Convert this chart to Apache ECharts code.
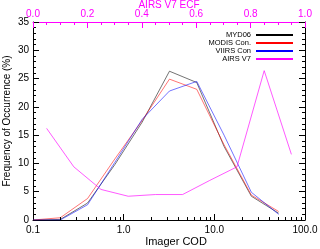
<!DOCTYPE html>
<html><head><meta charset="utf-8">
<script src="https://cdn.jsdelivr.net/npm/echarts@6/dist/echarts.min.js"></script>
<style>html,body{margin:0;padding:0;background:#fff}#c{width:320px;height:249px}</style>
</head><body><div id="c"></div>
<script>
// Imager COD bin centres (bottom log axis)
const codBins = [0.1, 0.2, 0.4, 0.8, 1.6, 3.2, 6.4, 12.8, 25.6, 51.2];
const myd06    = [0, 0.1, 3.0, 9.8, 17.3, 26.3, 24.3, 13.0, 4.2, 1.2];
const modisCon = [0, 0.4, 3.8, 10.8, 17.6, 24.9, 23.1, 13.3, 4.4, 1.5];
const viirsCon = [0, 0.0, 2.7, 10.2, 17.8, 22.8, 24.5, 15.0, 4.9, 1.0];
// AIRS V7 ECF bin centres (top linear axis)
const ecfBins = [0.05, 0.15, 0.25, 0.35, 0.45, 0.55, 0.65, 0.75, 0.85, 0.95];
const airsV7  = [16.2, 9.4, 5.4, 4.2, 4.5, 4.5, 7.0, 9.4, 26.4, 11.6];
// minor tick values of the log axis
const logMinorTicks = [0.2,0.3,0.4,0.5,0.6,0.7,0.8,0.9,2,3,4,5,6,7,8,9,20,30,40,50,60,70,80,90];
const seriesNames = ['MYD06', 'MODIS Con.', 'VIIRS Con', 'AIRS V7'];
const seriesColors = ['#000000', '#ff0000', '#0000ff', '#ff00ff'];
const lineColors = ['rgba(0,0,0,0.55)', 'rgba(255,0,0,0.55)', 'rgba(0,0,255,0.55)', 'rgba(255,0,255,0.65)'];

const F = '"Liberation Sans", Arial, Helvetica, sans-serif';
const chart = echarts.init(document.getElementById('c'), null, {renderer: 'canvas'});
const pair = (xs, ys) => xs.map((x, i) => [x, ys[i]]);
const lineSeries = (k, xs, ys, xi) => ({
  name: seriesNames[k], type: 'line', xAxisIndex: xi, yAxisIndex: 0,
  data: pair(xs, ys), symbol: 'none', color: seriesColors[k],
  itemStyle: {color: seriesColors[k]},
  lineStyle: {width: 1, color: lineColors[k]}, z: 2 + k
});
const option = {
  animation: false,
  textStyle: {fontFamily: F},
  grid: {left: 33, right: 15, top: 22, bottom: 29, containLabel: false, outerBoundsMode: 'none'},
  legend: {
    orient: 'vertical', right: 27, top: 31, align: 'right', padding: 0, itemGap: 0,
    itemWidth: 37, itemHeight: 2, icon: 'rect',
    textStyle: {fontSize: 7.5, lineHeight: 8, color: '#000', fontFamily: F},
    data: seriesNames
  },
  xAxis: [
    {type: 'log', logBase: 10, min: 0.1, max: 100, position: 'bottom',
     axisLine: {onZero: false, lineStyle: {color: '#000', width: 1}},
     axisTick: {inside: true, length: 6, lineStyle: {color: '#000'}},
     axisLabel: {fontSize: 10, color: '#000', margin: 5, fontFamily: F,
                 formatter: v => Number(v).toFixed(1)},
     splitLine: {show: false},
     name: 'Imager COD', nameLocation: 'middle', nameGap: 16, nameMoveOverlap: false,
     nameTextStyle: {fontSize: 11, color: '#000', fontFamily: F, padding: [0, 0, 0, 14]}},
    {type: 'value', min: 0, max: 1, interval: 0.2, position: 'top',
     axisLine: {onZero: false, lineStyle: {color: '#ff00ff', width: 1}},
     axisTick: {inside: true, length: 6, lineStyle: {color: '#ff00ff'}},
     minorTick: {show: true, splitNumber: 4, length: 3, lineStyle: {color: '#ff00ff'}},
     axisLabel: {fontSize: 10, color: '#ff00ff', margin: 3, fontFamily: F,
                 formatter: v => Number(v).toFixed(1)},
     splitLine: {show: false},
     name: 'AIRS V7 ECF', nameLocation: 'middle', nameGap: 12, nameMoveOverlap: false,
     nameTextStyle: {fontSize: 10, color: '#ff00ff', fontFamily: F}}
  ],
  yAxis: [
    {type: 'value', min: 0, max: 35, interval: 5, position: 'left',
     axisLine: {show: true, lineStyle: {color: '#000'}},
     axisTick: {inside: true, length: 6, lineStyle: {color: '#000'}},
     minorTick: {show: true, splitNumber: 5, length: 3, lineStyle: {color: '#000'}},
     axisLabel: {fontSize: 10, color: '#000', margin: 4, fontFamily: F},
     splitLine: {show: false},
     name: 'Frequency of Occurrence (%)', nameLocation: 'middle', nameGap: 21, nameMoveOverlap: false,
     nameTextStyle: {fontSize: 10, color: '#000', fontFamily: F}},
    {type: 'value', min: 0, max: 35, interval: 5, position: 'right',
     axisLine: {show: true, lineStyle: {color: '#000'}},
     axisTick: {inside: true, length: 6, lineStyle: {color: '#000'}},
     minorTick: {show: true, splitNumber: 5, length: 3, lineStyle: {color: '#000'}},
     axisLabel: {show: false}, splitLine: {show: false}}
  ],
  series: [
    {name: 'logMinorTicks', type: 'custom', xAxisIndex: 0, yAxisIndex: 0, silent: true,
     clip: false, z: 10,
     data: logMinorTicks.map(v => [v, 0]),
     renderItem: (params, api) => {
       const p = api.coord([api.value(0), api.value(1)]);
       const x = Math.round(p[0]) + 0.5;
       return {type: 'line', shape: {x1: x, y1: p[1], x2: x, y2: p[1] - 3},
               style: {stroke: '#000', lineWidth: 1}};
     }},
    lineSeries(0, codBins, myd06, 0),
    lineSeries(1, codBins, modisCon, 0),
    lineSeries(2, codBins, viirsCon, 0),
    lineSeries(3, ecfBins, airsV7, 1)
  ]
};
chart.setOption(option);
</script>
</body></html>
